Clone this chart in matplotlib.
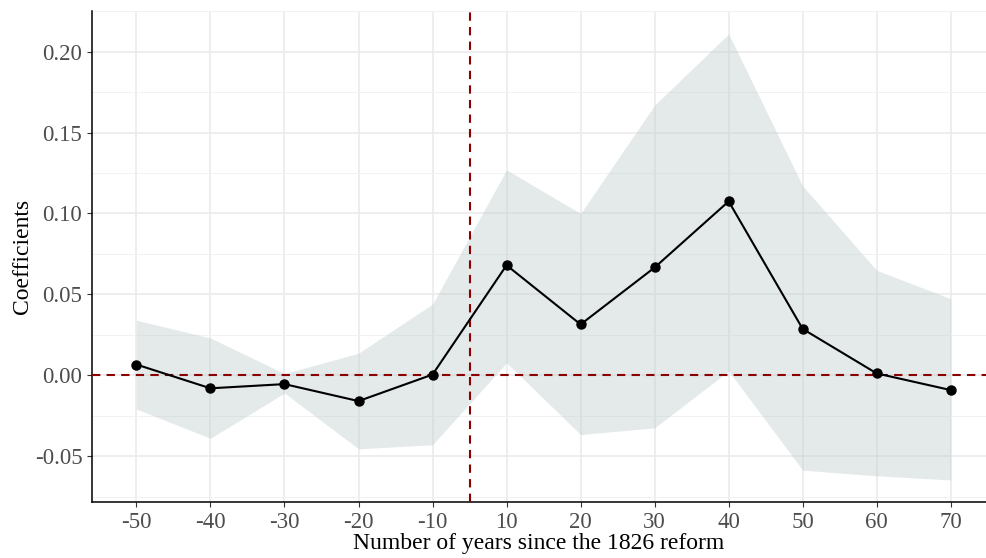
import matplotlib
matplotlib.use("Agg")
import matplotlib.pyplot as plt
import numpy as np

# event-study estimates
years = [-50, -40, -30, -20, -10, 10, 20, 30, 40, 50, 60, 70]
coef = [0.0066, -0.0081, -0.0055, -0.0160, 0.0004, 0.0680, 0.0314, 0.0666, 0.1075, 0.0286, 0.0011, -0.0092]
ci_low = [-0.0209, -0.0390, -0.0110, -0.0455, -0.0430, 0.0077, -0.0367, -0.0325, 0.0026, -0.0587, -0.0622, -0.0648]
ci_high = [0.0340, 0.0230, 0.0010, 0.0136, 0.0440, 0.1270, 0.1000, 0.1670, 0.2110, 0.1170, 0.0648, 0.0473]
yticks = [-0.05, 0.00, 0.05, 0.10, 0.15, 0.20]

plt.rcParams['font.family'] = ['Liberation Serif', 'DejaVu Serif']

fig = plt.figure(figsize=(9.86, 5.58), dpi=100)
ax = fig.add_axes([92 / 986, 56 / 558, 1 - 92 / 986, 491 / 558])

pos = np.arange(1, len(years) + 1)

# confidence band
ax.fill_between(pos, ci_low, ci_high, color="#BCCACA", alpha=0.4, linewidth=0, zorder=2)

# reference lines
ax.axhline(0, color="#8B0000", linestyle=(0, (4, 3)), linewidth=1.5, zorder=3)
ax.axvline(5.5, color="#8B0000", linestyle=(0, (4, 3)), linewidth=1.5, zorder=3)

ax.plot(pos, coef, color="black", linewidth=1.5, marker="o", markersize=6.5, zorder=4)

ax.set_xlim(0.4, 12.476)
ax.set_ylim(-0.0784, 0.2252)
ax.set_xticks(pos)
ax.set_xticklabels([str(y) for y in years])
ax.set_yticks(yticks)
ax.set_yticklabels([f"{v:.2f}" for v in yticks])
ax.set_yticks(np.arange(-0.075, 0.226, 0.05), minor=True)

ax.grid(True, which="major", color="#EBEBEB", linewidth=1.2, zorder=0)
ax.grid(True, which="minor", axis="y", color="#F2F2F2", linewidth=0.7, zorder=0)
ax.set_axisbelow(True)

for side in ["top", "right"]:
    ax.spines[side].set_visible(False)
for side in ["left", "bottom"]:
    ax.spines[side].set_color("black")
    ax.spines[side].set_linewidth(1.1)

ax.tick_params(axis="both", which="major", length=3.5, width=0.8, color="#333333",
               labelsize=16.5, labelcolor="#4D4D4D", pad=3.5)
ax.tick_params(axis="y", which="minor", length=0)
ax.tick_params(axis="x", which="minor", length=0)

ax.set_xlabel("Number of years since the 1826 reform", fontsize=17, color="black", labelpad=0)
ax.set_ylabel("Coefficients", fontsize=17, color="black", labelpad=1)

fig.savefig("out.png", dpi=100)
